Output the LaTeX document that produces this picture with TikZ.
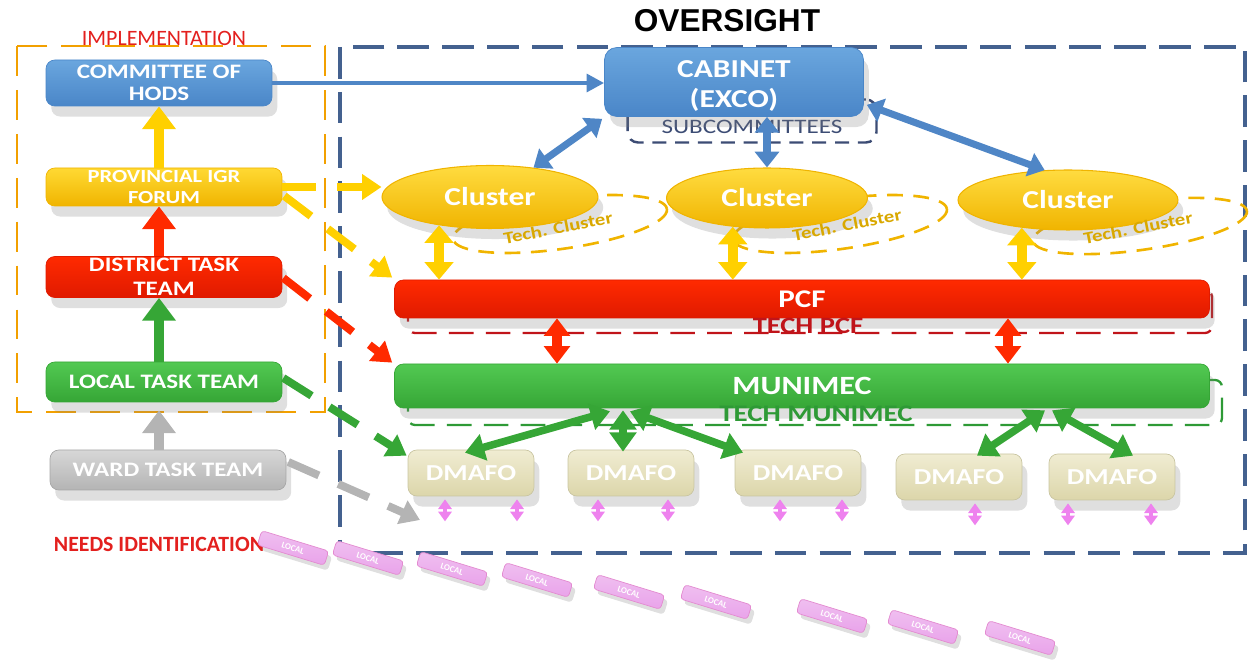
\documentclass[tikz,border=0pt]{standalone}
\usepackage{fontspec}
\setmainfont{Carlito}
\newfontfamily\wf[FakeStretch=1.22]{Carlito}
\newfontfamily\arialf{Liberation Sans}
\usetikzlibrary{arrows.meta,shapes.geometric,shadows,calc}

\definecolor{bluebox}{HTML}{6AA6DE}
\definecolor{bluedark}{HTML}{4A86C8}
\definecolor{bluearr}{HTML}{4F86C6}
\definecolor{yel}{HTML}{FFD000}
\definecolor{yeldark}{HTML}{F0B400}
\definecolor{redb}{HTML}{FF2A00}
\definecolor{redd}{HTML}{E01A00}
\definecolor{greenb}{HTML}{52C952}
\definecolor{greend}{HTML}{36A636}
\definecolor{grayb}{HTML}{CDCDCD}
\definecolor{grayd}{HTML}{B4B4B4}
\definecolor{beige}{HTML}{F0ECD2}
\definecolor{beiged}{HTML}{DCD6AA}
\definecolor{oversight}{HTML}{44618F}
\definecolor{orangeb}{HTML}{F2A000}
\definecolor{pinkb}{HTML}{E9A3EA}
\definecolor{pinka}{HTML}{EE82EE}
\definecolor{gold}{HTML}{D9A800}
\definecolor{techred}{HTML}{C0141A}
\definecolor{techgreen}{HTML}{2E9A36}
\definecolor{subc}{HTML}{3C4C74}
\definecolor{implred}{HTML}{E3201E}

\tikzset{
  boxshadow/.style={drop shadow={opacity=0.25,shadow xshift=3pt,shadow yshift=-6pt}},
  lbox/.style={rounded corners=5pt, minimum width=4.72cm, minimum height=0.8cm, inner sep=0pt,
    align=center, text=white, font=\wf\bfseries\fontsize{11.7}{13}\selectfont, boxshadow},
  bar/.style={rounded corners=5pt, minimum width=16.3cm, inner sep=0pt, text=white, boxshadow},
  cluster/.style={ellipse, draw=yeldark, line width=0.6pt, top color=yel!75!white, bottom color=yeldark,
    text=white, inner sep=0pt, font=\wf\bfseries\fontsize{14.7}{16}\selectfont, boxshadow},
  techell/.style={draw=yeldark, line width=1.5pt, dash pattern=on 9pt off 6pt},
  techtxt/.style={text=gold, rotate=11, font=\wf\bfseries\fontsize{9.7}{10}\selectfont},
  dmafo/.style={rounded corners=5pt, minimum width=2.52cm, minimum height=0.92cm, inner sep=0pt,
    top color=beige, bottom color=beiged, draw=beiged!80!gray, text=white,
    font=\wf\bfseries\fontsize{13}{14}\selectfont, boxshadow},
  strip/.style={rotate=-17, top color=pinkb!70!white, bottom color=pinkb, draw=pinkb!85!purple,
    rounded corners=2pt, minimum width=1.4cm, minimum height=0.3cm, inner sep=0pt, text=white,
    font=\bfseries\fontsize{5}{5}\selectfont, drop shadow={opacity=0.25,shadow xshift=2pt,shadow yshift=-3pt}},
  vblock/.style={line width=5.7pt, -{Triangle[width=18.5pt,length=13pt]}},
  bluedbl/.style={draw=bluearr, line width=4pt, {Triangle[width=13.6pt,length=9pt]}-{Triangle[width=13.6pt,length=9pt]}},
  yeldbl/.style={draw=yel, line width=5.5pt, {Triangle[width=16pt,length=10pt]}-{Triangle[width=16pt,length=10pt]}},
  reddbl/.style={draw=redb, line width=5.5pt, {Triangle[width=14.5pt,length=10pt]}-{Triangle[width=14.5pt,length=10pt]}},
  grdbl/.style={draw=greend, line width=4.3pt, {Triangle[width=15pt,length=11pt]}-{Triangle[width=15pt,length=11pt]}},
  pinkdbl/.style={draw=pinka, line width=2.2pt, {Triangle[width=7.5pt,length=5.5pt]}-{Triangle[width=7.5pt,length=5.5pt]}},
  dashdiag/.style={line width=4.5pt, dash pattern=on 19pt off 12pt, -{Triangle[width=14pt,length=11pt]}}
}

\begin{document}
\begin{tikzpicture}[x=0.02cm,y=-0.02cm]
\useasboundingbox (0,0) rectangle (1249,661);

% frames
\draw[orangeb, line width=1.3pt, dash pattern=on 17pt off 8pt] (17,46) rectangle (325,412);
\node[text=implred, font=\fontsize{12.5}{13}\selectfont, inner sep=0pt] (impl) at (164,38) {IMPLEMENTATION};
\draw[oversight, line width=1.8pt, dash pattern=on 18pt off 7.5pt] (340,47) rectangle (1245,553);
\node[font=\arialf\bfseries\fontsize{18}{20}\selectfont, inner sep=0pt] (over) at (727,21) {OVERSIGHT};

% left column
\node[lbox, top color=bluebox, bottom color=bluedark, draw=bluedark, minimum width=4.52cm, minimum height=0.92cm,
      font=\wf\bfseries\fontsize{11.7}{12.5}\selectfont] (hods) at (159,83) {COMMITTEE OF\\HODS};
\node[lbox, top color=yel!80!white, bottom color=yeldark, draw=yeldark, minimum height=0.76cm,
      font=\wf\bfseries\fontsize{10.5}{12}\selectfont] (forum) at (164,187) {PROVINCIAL IGR\\FORUM};
\node[lbox, top color=redb, bottom color=redd, draw=redd, minimum height=0.82cm,
      font=\wf\bfseries\fontsize{11.7}{13.6}\selectfont] (dist) at (164,277) {DISTRICT TASK\\TEAM};
\node[lbox, top color=greenb, bottom color=greend, draw=greend] (local) at (164,382) {LOCAL TASK TEAM};
\node[lbox, top color=grayb!80!white, bottom color=grayd, draw=gray!70] (ward) at (168,470) {WARD TASK TEAM};
\node[text=implred, font=\bfseries\fontsize{12.4}{13}\selectfont, inner sep=0pt] (needs) at (159,544) {NEEDS IDENTIFICATION};

\draw[vblock, draw=yel] (forum.north -| hods.south) -- (hods.south);
\draw[vblock, draw=redb] (dist.north -| hods.south) -- (forum.south -| hods.south);
\draw[vblock, draw=greend] (local.north -| hods.south) -- (dist.south -| hods.south);
\draw[vblock, draw=grayd] (ward.north -| hods.south) -- ($(local.south -| hods.south)+(0,8)$);

% cabinet and subcommittees
\node[draw=subc, rounded corners=6pt, line width=1.4pt, dash pattern=on 8pt off 5pt,
      minimum width=4.98cm, minimum height=0.86cm, inner sep=0pt] (subbox) at (752,121) {};
\node[text=subc, font=\wf\fontsize{11.7}{12}\selectfont, inner sep=0pt] (subtxt) at (752,127) {SUBCOMMITTEES};
\node[rounded corners=7pt, top color=bluebox, bottom color=bluedark, draw=bluedark, minimum width=5.18cm,
      minimum height=1.38cm, inner sep=0pt, boxshadow] (cab) at (734,82) {};
\node[align=center, text=white, inner sep=0pt, font=\wf\bfseries\fontsize{14.7}{17.5}\selectfont] (cabtxt) at (734,86) {CABINET\\(EXCO)};

% tech clusters (behind)
\draw[techell, rotate around={8:(560,224)}] (560,224) ellipse (108 and 25);
\draw[techell, rotate around={8:(840,224)}] (840,224) ellipse (108 and 25);
\draw[techell, rotate around={8:(1140,226)}] (1140,226) ellipse (108 and 24);

% clusters
\node[cluster, minimum width=4.32cm, minimum height=1.26cm] (c1) at (490,197) {Cluster};
\node[cluster, minimum width=4.02cm, minimum height=1.2cm] (c2) at (767,198) {Cluster};
\node[cluster, minimum width=4.4cm, minimum height=1.2cm] (c3) at (1068,200) {Cluster};
\node[techtxt] (t1) at (558,228) {Tech. Cluster};
\node[techtxt] (t2) at (847,225) {Tech. Cluster};
\node[techtxt] (t3) at (1138,228) {Tech. Cluster};

% PCF and MUNIMEC
\draw[techred, line width=1.3pt, dash pattern=on 14pt off 7pt, rounded corners=4pt] (408,290) rectangle (1212,333);
\node[bar, top color=redb, bottom color=redd, draw=redd, minimum height=0.76cm,
      font=\wf\bfseries\fontsize{14.5}{15}\selectfont] (pcf) at (802,299) {PCF};
\node[text=techred, font=\wf\bfseries\fontsize{13.3}{14}\selectfont, inner sep=0pt] (tpcf) at (808,326) {TECH PCF};

\draw[techgreen, line width=1.3pt, dash pattern=on 14pt off 7pt, rounded corners=4pt] (408,380) rectangle (1222,425);
\node[bar, top color=greenb, bottom color=greend, draw=greend, minimum height=0.88cm,
      font=\wf\bfseries\fontsize{15}{16}\selectfont] (mun) at (802,386) {MUNIMEC};
\node[text=techgreen, font=\wf\bfseries\fontsize{13.5}{14}\selectfont, inner sep=0pt] (tmun) at (816,414) {TECH MUNIMEC};

% DMAFO
\node[dmafo] (d1) at (471,473) {DMAFO};
\node[dmafo] (d2) at (631,473) {DMAFO};
\node[dmafo] (d3) at (798,473) {DMAFO};
\node[dmafo] (d4) at (959,477) {DMAFO};
\node[dmafo] (d5) at (1112,477) {DMAFO};

% LOCAL strips
\foreach \i/\x/\y in {1/293/548, 2/368/558, 3/452/569, 4/537/580, 5/629/592, 6/716/602, 7/832/616, 8/923/627, 9/1020/638}
  \node[strip] (l\i) at (\x,\y) {LOCAL};

% connectors
\draw[draw=bluearr, line width=2.5pt, -{Triangle[width=10pt,length=10pt]}] (hods.east) -- (cab.west |- hods.east);
\draw[bluedbl] ($(cab.south west)+(-2,2)$) -- (c1.34);
\draw[bluedbl] (cab.south -| c2.north) -- (c2.north);
\draw[bluedbl] ($(cab.south east)+(3,-12)$) -- (c3.128);

\draw[yeldbl] (c1.209) -- (c1.209 |- pcf.north);
\draw[yeldbl] (c2.220) -- (c2.220 |- pcf.north);
\draw[yeldbl] (c3.211) -- (c3.211 |- pcf.north);

\draw[reddbl] ($(pcf.south)+(-245,0)$) -- ($(mun.north)+(-245,0)$);
\draw[reddbl] ($(pcf.south)+(206,0)$) -- ($(mun.north)+(206,0)$);

\draw[grdbl] ($(mun.south)+(-192,3)$) -- ($(d1.north)+(-6,3)$);
\draw[grdbl] ($(mun.south)+(-179,2)$) -- ($(d2.north)+(-8,2)$);
\draw[grdbl] ($(mun.south)+(-172,3)$) -- ($(d3.north)+(-55,3)$);
\draw[grdbl] ($(mun.south)+(243,2)$) -- ($(d4.north)+(18,2)$);
\draw[grdbl] ($(mun.south)+(250,2)$) -- ($(d5.north)+(21,2)$);

\foreach \n/\dx in {d1/-26, d1/46, d2/-33, d2/37, d3/-18, d3/44, d4/16, d5/-44, d5/39}
  \draw[pinkdbl] ($(\n.south)+(\dx,3)$) -- ++(0,22);

% dashed diagonals from the implementation column
\coordinate (gtip) at (420,520);
\draw[dashdiag, draw=yel] (forum.east) -- (c1.west |- forum.east);
\draw[dashdiag, draw=yel] ($(forum.east)+(2,9)$) -- ($(pcf.north west)+(-2,-2)$);
\draw[dashdiag, draw=redb] ($(dist.east)+(1,1)$) -- ($(mun.north west)+(-2,-1)$);
\draw[dashdiag, draw=greend] ($(local.east)+(1,-4)$) -- ($(d1.north west)+(-1,6)$);
\draw[dashdiag, draw=grayd] ($(ward.east)+(2,-8)$) -- (gtip);
\end{tikzpicture}
\end{document}
